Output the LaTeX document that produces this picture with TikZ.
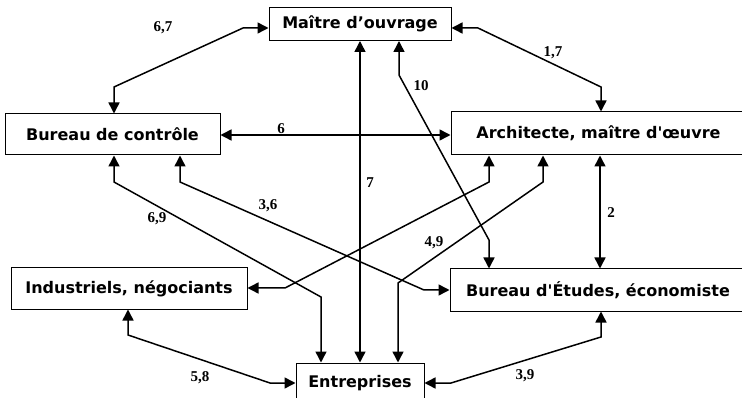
\documentclass[tikz,border=0pt]{standalone}
\usepackage{fontspec}
\setmainfont{Liberation Serif}
\newfontfamily\boxfont{DejaVu Sans}[BoldFont={DejaVu Sans Bold}]
\usetikzlibrary{arrows.meta}
\begin{document}
\begin{tikzpicture}[x=1pt,y=-1pt,
  box/.style={draw, line width=1pt, inner sep=0pt, font=\boxfont\bfseries\fontsize{16}{18}\selectfont},
  link/.style={line width=1.5pt, {Triangle[length=11pt,width=11pt]}-{Triangle[length=11pt,width=11pt]}},
  lab/.style={font=\bfseries\fontsize{15}{17}\selectfont, inner sep=0pt}]
\useasboundingbox (0,0) rectangle (742,398);
\begin{scope}
\clip (0,0) rectangle (742,398);
\node[box, minimum width=182pt, minimum height=33pt] (maitre) at (360,24) {Maître d’ouvrage};
\node[box, minimum width=215pt, minimum height=41pt] (controle) at (112.5,134.5) {Bureau de contrôle};
\node[box, minimum width=295pt, minimum height=43pt] (archi) at (598.5,133.5) {Architecte, maître d'œuvre};
\node[box, minimum width=236pt, minimum height=41pt] (indus) at (129,288.5) {Industriels, négociants};
\node[box, minimum width=296pt, minimum height=42pt] (etudes) at (598,290) {Bureau d'Études, économiste};
\node[box, minimum width=128pt, minimum height=40pt] (entre) at (360,383) {Entreprises};
\end{scope}

% coordinates of bends
\coordinate (a1) at (243,28);  \coordinate (a2) at (114,87);
\coordinate (c1) at (478,28);  \coordinate (c2) at (601,87);
\coordinate (c3) at (283,135);
\coordinate (c4) at (360,200);
\coordinate (d1) at (399,75);  \coordinate (d2) at (489,240);
\coordinate (c6) at (600,210);
\coordinate (e1) at (114,182); \coordinate (e2) at (321,297);
\coordinate (f1) at (180,182); \coordinate (f2) at (424,290);
\coordinate (g1) at (489,182); \coordinate (g2) at (285,288);
\coordinate (h1) at (543,182); \coordinate (h2) at (398,283);
\coordinate (i1) at (128,335); \coordinate (i2) at (270,383);
\coordinate (j1) at (451,383); \coordinate (j2) at (601,337);

\draw[link] (a1 -| maitre.west) -- (a1) -- (a2) -- (a2 |- controle.north);
\draw[link] (c1 -| maitre.east) -- (c1) -- (c2) -- (c2 |- archi.north);
\draw[link] (c3 -| controle.east) -- (c3 -| archi.west);
\draw[link] (c4 |- maitre.south) -- (c4 |- entre.north);
\draw[link] (d1 |- maitre.south) -- (d1) -- (d2) -- (d2 |- etudes.north);
\draw[link] (c6 |- archi.south) -- (c6 |- etudes.north);
\draw[link] (e1 |- controle.south) -- (e1) -- (e2) -- (e2 |- entre.north);
\draw[link] (f1 |- controle.south) -- (f1) -- (f2) -- (f2 -| etudes.west);
\draw[link] (g1 |- archi.south) -- (g1) -- (g2) -- (g2 -| indus.east);
\draw[link] (h1 |- archi.south) -- (h1) -- (h2) -- (h2 |- entre.north);
\draw[link] (i1 |- indus.south) -- (i1) -- (i2) -- (i2 -| entre.west);
\draw[link] (j1 -| entre.east) -- (j1) -- (j2) -- (j2 |- etudes.south);

\node[lab] (l1) at (163,28) {6,7};
\node[lab] (l2) at (553,53) {1,7};
\node[lab] (l3) at (281,129) {6};
\node[lab] (l4) at (370,183) {7};
\node[lab] (l5) at (421,86) {10};
\node[lab] (l6) at (611,213) {2};
\node[lab] (l7) at (157,219) {6,9};
\node[lab] (l8) at (268,206) {3,6};
\node[lab] (l9) at (434,243) {4,9};
\node[lab] (l10) at (200,378) {5,8};
\node[lab] (l11) at (525,376) {3,9};
\end{tikzpicture}
\end{document}
